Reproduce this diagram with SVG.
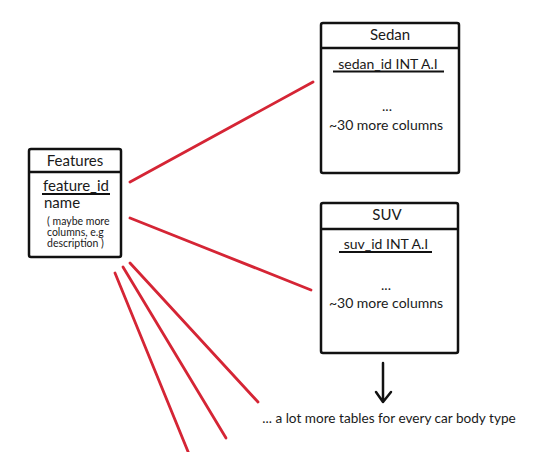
<svg xmlns="http://www.w3.org/2000/svg" width="540" height="452" viewBox="0 0 540 452">
<style>
.box{fill:#fff;stroke:#111;stroke-width:2.5;stroke-linejoin:round}
.div{stroke:#111;stroke-width:2.5}
.ul{stroke:#111;stroke-width:2}
.t{font-family:Lato,"Liberation Sans",sans-serif;font-size:14px;fill:#1a1a1a}
.h{font-family:Lato,"Liberation Sans",sans-serif;font-size:15px;fill:#1a1a1a}
.s{font-family:Lato,"Liberation Sans",sans-serif;font-size:10.5px;fill:#1a1a1a}
.red{stroke:#d52535;stroke-width:2.8;stroke-linecap:round;fill:none}
</style>
<rect width="540" height="452" fill="#fff"/>
<g id="connectors">
<line class="red" x1="130" y1="182" x2="313" y2="82"/>
<line class="red" x1="130" y1="218" x2="311" y2="290"/>
<line class="red" x1="130" y1="263" x2="258" y2="402"/>
<line class="red" x1="123" y1="267" x2="226" y2="438"/>
<line class="red" x1="115" y1="273" x2="189" y2="454"/>
<path d="M383 363 V402 M376 392 L383 402 L391 392" stroke="#111" stroke-width="2.5" fill="none" stroke-linecap="round" stroke-linejoin="round"/>
</g>
<g id="features">
<rect class="box" x="29" y="149" width="92" height="108" rx="2"/>
<line class="div" x1="29" y1="172" x2="121" y2="172"/>
<text class="h" x="75" y="166" text-anchor="middle">Features</text>
<text class="h" x="43" y="191">feature_id</text>
<line class="ul" x1="42" y1="194" x2="110" y2="194"/>
<text class="h" x="44" y="208">name</text>
<text class="s" x="47" y="225">( maybe more</text>
<text class="s" x="47" y="236">columns, e.g</text>
<text class="s" x="47" y="247">description )</text>
</g>
<g id="sedan">
<rect class="box" x="321" y="23" width="138" height="150" rx="2"/>
<line class="div" x1="321" y1="48" x2="459" y2="48"/>
<text class="h" x="390" y="40" text-anchor="middle">Sedan</text>
<text class="t" x="388" y="69" text-anchor="middle">sedan_id INT A.I</text>
<line class="ul" x1="333" y1="71.5" x2="444" y2="71.5"/>
<text class="t" x="387" y="111" text-anchor="middle">...</text>
<text class="t" x="386" y="130" text-anchor="middle">~30 more columns</text>
</g>
<g id="suv">
<rect class="box" x="321" y="203" width="137" height="150" rx="2"/>
<line class="div" x1="321" y1="229" x2="458" y2="229"/>
<text class="h" x="387" y="220" text-anchor="middle">SUV</text>
<text class="t" x="386" y="249" text-anchor="middle">suv_id INT A.I</text>
<line class="ul" x1="339" y1="252" x2="432" y2="252"/>
<text class="t" x="386" y="290" text-anchor="middle">...</text>
<text class="t" x="386" y="308" text-anchor="middle">~30 more columns</text>
</g>
<g id="more">
<text class="t" x="389" y="423" text-anchor="middle" style="font-size:13.6px">... a lot more tables for every car body type</text>
</g>
</svg>
